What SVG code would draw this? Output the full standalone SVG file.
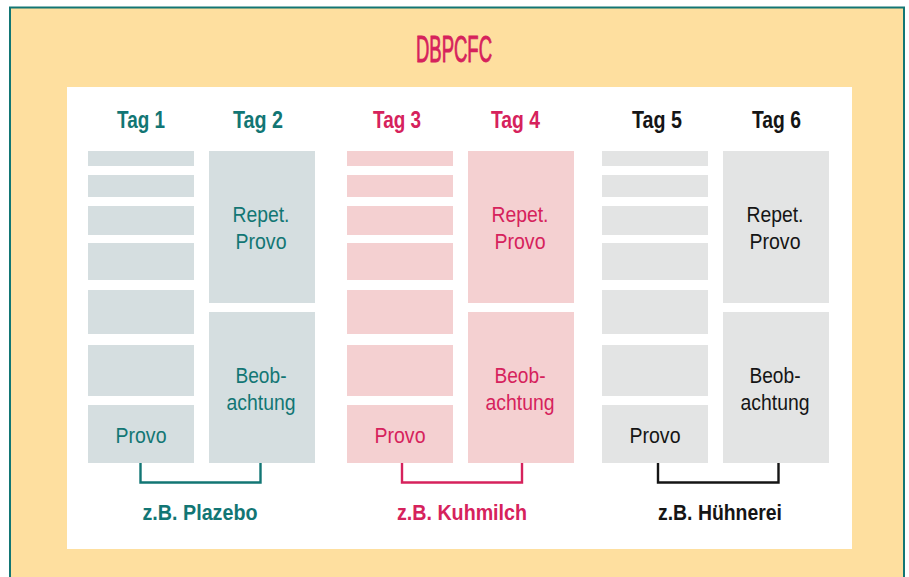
<svg xmlns="http://www.w3.org/2000/svg" width="909" height="577" viewBox="0 0 909 577">
  <style>
    text { font-family: "Liberation Sans", Arial, sans-serif; text-anchor: middle; }
    .title { font-size: 37px; fill: #d6225c; stroke: #d6225c; stroke-width: 0.9px; }
    .head { font-size: 23px; font-weight: bold; }
    .lbl { font-size: 22px; }
    .foot { font-size: 22px; font-weight: bold; }
    .teal { fill: #127674; }
    .pink { fill: #d6225c; }
    .dark { fill: #151515; }
    .bt { fill: #d5dee0; }
    .bp { fill: #f4d0d1; }
    .bg { fill: #e3e4e4; }
    .br { fill: none; stroke-width: 2.4; }
  </style>

  <!-- frame -->
  <rect x="10" y="7.5" width="894" height="580" fill="#fedf9f" stroke="#127674" stroke-width="2"/>
  <rect x="67" y="87" width="785" height="462" fill="#ffffff"/>
  <text class="title" x="454" y="61.5" textLength="76" lengthAdjust="spacingAndGlyphs">DBPCFC</text>

  <!-- day headings -->
  <g id="headings">
    <text class="head teal" x="141" y="128" textLength="48" lengthAdjust="spacingAndGlyphs">Tag 1</text>
    <text class="head teal" x="258" y="128" textLength="50" lengthAdjust="spacingAndGlyphs">Tag 2</text>
    <text class="head pink" x="397" y="128" textLength="48" lengthAdjust="spacingAndGlyphs">Tag 3</text>
    <text class="head pink" x="515.5" y="128" textLength="49" lengthAdjust="spacingAndGlyphs">Tag 4</text>
    <text class="head dark" x="657" y="128" textLength="50" lengthAdjust="spacingAndGlyphs">Tag 5</text>
    <text class="head dark" x="776.5" y="128" textLength="49" lengthAdjust="spacingAndGlyphs">Tag 6</text>
  </g>

  <!-- day 1: provocation steps -->
  <g id="day1">
    <rect class="bt" x="88" y="151" width="106" height="15"/>
    <rect class="bt" x="88" y="175" width="106" height="22"/>
    <rect class="bt" x="88" y="206" width="106" height="29"/>
    <rect class="bt" x="88" y="243" width="106" height="37"/>
    <rect class="bt" x="88" y="290" width="106" height="44"/>
    <rect class="bt" x="88" y="345" width="106" height="51"/>
    <rect class="bt" x="88" y="405" width="106" height="58"/>
    <text class="lbl teal" x="141" y="443" textLength="51" lengthAdjust="spacingAndGlyphs">Provo</text>
  </g>

  <!-- day 2 -->
  <g id="day2">
    <rect class="bt" x="209" y="151" width="106" height="152"/>
    <text class="lbl teal" x="261" y="222" textLength="57" lengthAdjust="spacingAndGlyphs">Repet.</text>
    <text class="lbl teal" x="261" y="249" textLength="51" lengthAdjust="spacingAndGlyphs">Provo</text>
    <rect class="bt" x="209" y="312" width="106" height="151"/>
    <text class="lbl teal" x="261" y="383" textLength="51" lengthAdjust="spacingAndGlyphs">Beob-</text>
    <text class="lbl teal" x="261" y="410" textLength="69" lengthAdjust="spacingAndGlyphs">achtung</text>
  </g>

  <!-- day 3 -->
  <g id="day3">
    <rect class="bp" x="347" y="151" width="106" height="15"/>
    <rect class="bp" x="347" y="175" width="106" height="22"/>
    <rect class="bp" x="347" y="206" width="106" height="29"/>
    <rect class="bp" x="347" y="243" width="106" height="37"/>
    <rect class="bp" x="347" y="290" width="106" height="44"/>
    <rect class="bp" x="347" y="345" width="106" height="51"/>
    <rect class="bp" x="347" y="405" width="106" height="58"/>
    <text class="lbl pink" x="400" y="443" textLength="51" lengthAdjust="spacingAndGlyphs">Provo</text>
  </g>

  <!-- day 4 -->
  <g id="day4">
    <rect class="bp" x="468" y="151" width="106" height="152"/>
    <text class="lbl pink" x="520" y="222" textLength="57" lengthAdjust="spacingAndGlyphs">Repet.</text>
    <text class="lbl pink" x="520" y="249" textLength="51" lengthAdjust="spacingAndGlyphs">Provo</text>
    <rect class="bp" x="468" y="312" width="106" height="151"/>
    <text class="lbl pink" x="520" y="383" textLength="51" lengthAdjust="spacingAndGlyphs">Beob-</text>
    <text class="lbl pink" x="520" y="410" textLength="69" lengthAdjust="spacingAndGlyphs">achtung</text>
  </g>

  <!-- day 5 -->
  <g id="day5">
    <rect class="bg" x="602" y="151" width="106" height="15"/>
    <rect class="bg" x="602" y="175" width="106" height="22"/>
    <rect class="bg" x="602" y="206" width="106" height="29"/>
    <rect class="bg" x="602" y="243" width="106" height="37"/>
    <rect class="bg" x="602" y="290" width="106" height="44"/>
    <rect class="bg" x="602" y="345" width="106" height="51"/>
    <rect class="bg" x="602" y="405" width="106" height="58"/>
    <text class="lbl dark" x="655" y="443" textLength="51" lengthAdjust="spacingAndGlyphs">Provo</text>
  </g>

  <!-- day 6 -->
  <g id="day6">
    <rect class="bg" x="723" y="151" width="106" height="152"/>
    <text class="lbl dark" x="775" y="222" textLength="57" lengthAdjust="spacingAndGlyphs">Repet.</text>
    <text class="lbl dark" x="775" y="249" textLength="51" lengthAdjust="spacingAndGlyphs">Provo</text>
    <rect class="bg" x="723" y="312" width="106" height="151"/>
    <text class="lbl dark" x="775" y="383" textLength="51" lengthAdjust="spacingAndGlyphs">Beob-</text>
    <text class="lbl dark" x="775" y="410" textLength="69" lengthAdjust="spacingAndGlyphs">achtung</text>
  </g>

  <!-- brackets joining each day pair -->
  <g id="connectors">
    <path class="br" d="M140.5 463 V482.5 H260.5 V463" stroke="#127674"/>
    <path class="br" d="M402 463 V482.5 H522 V463" stroke="#d6225c"/>
    <path class="br" d="M658 463 V482.5 H778.5 V463" stroke="#151515"/>
  </g>

  <!-- substances -->
  <g id="substances">
    <text class="foot teal" x="200" y="520" textLength="115" lengthAdjust="spacingAndGlyphs">z.B. Plazebo</text>
    <text class="foot pink" x="462" y="520" textLength="130" lengthAdjust="spacingAndGlyphs">z.B. Kuhmilch</text>
    <text class="foot dark" x="720" y="520" textLength="124" lengthAdjust="spacingAndGlyphs">z.B. Hühnerei</text>
  </g>
</svg>
